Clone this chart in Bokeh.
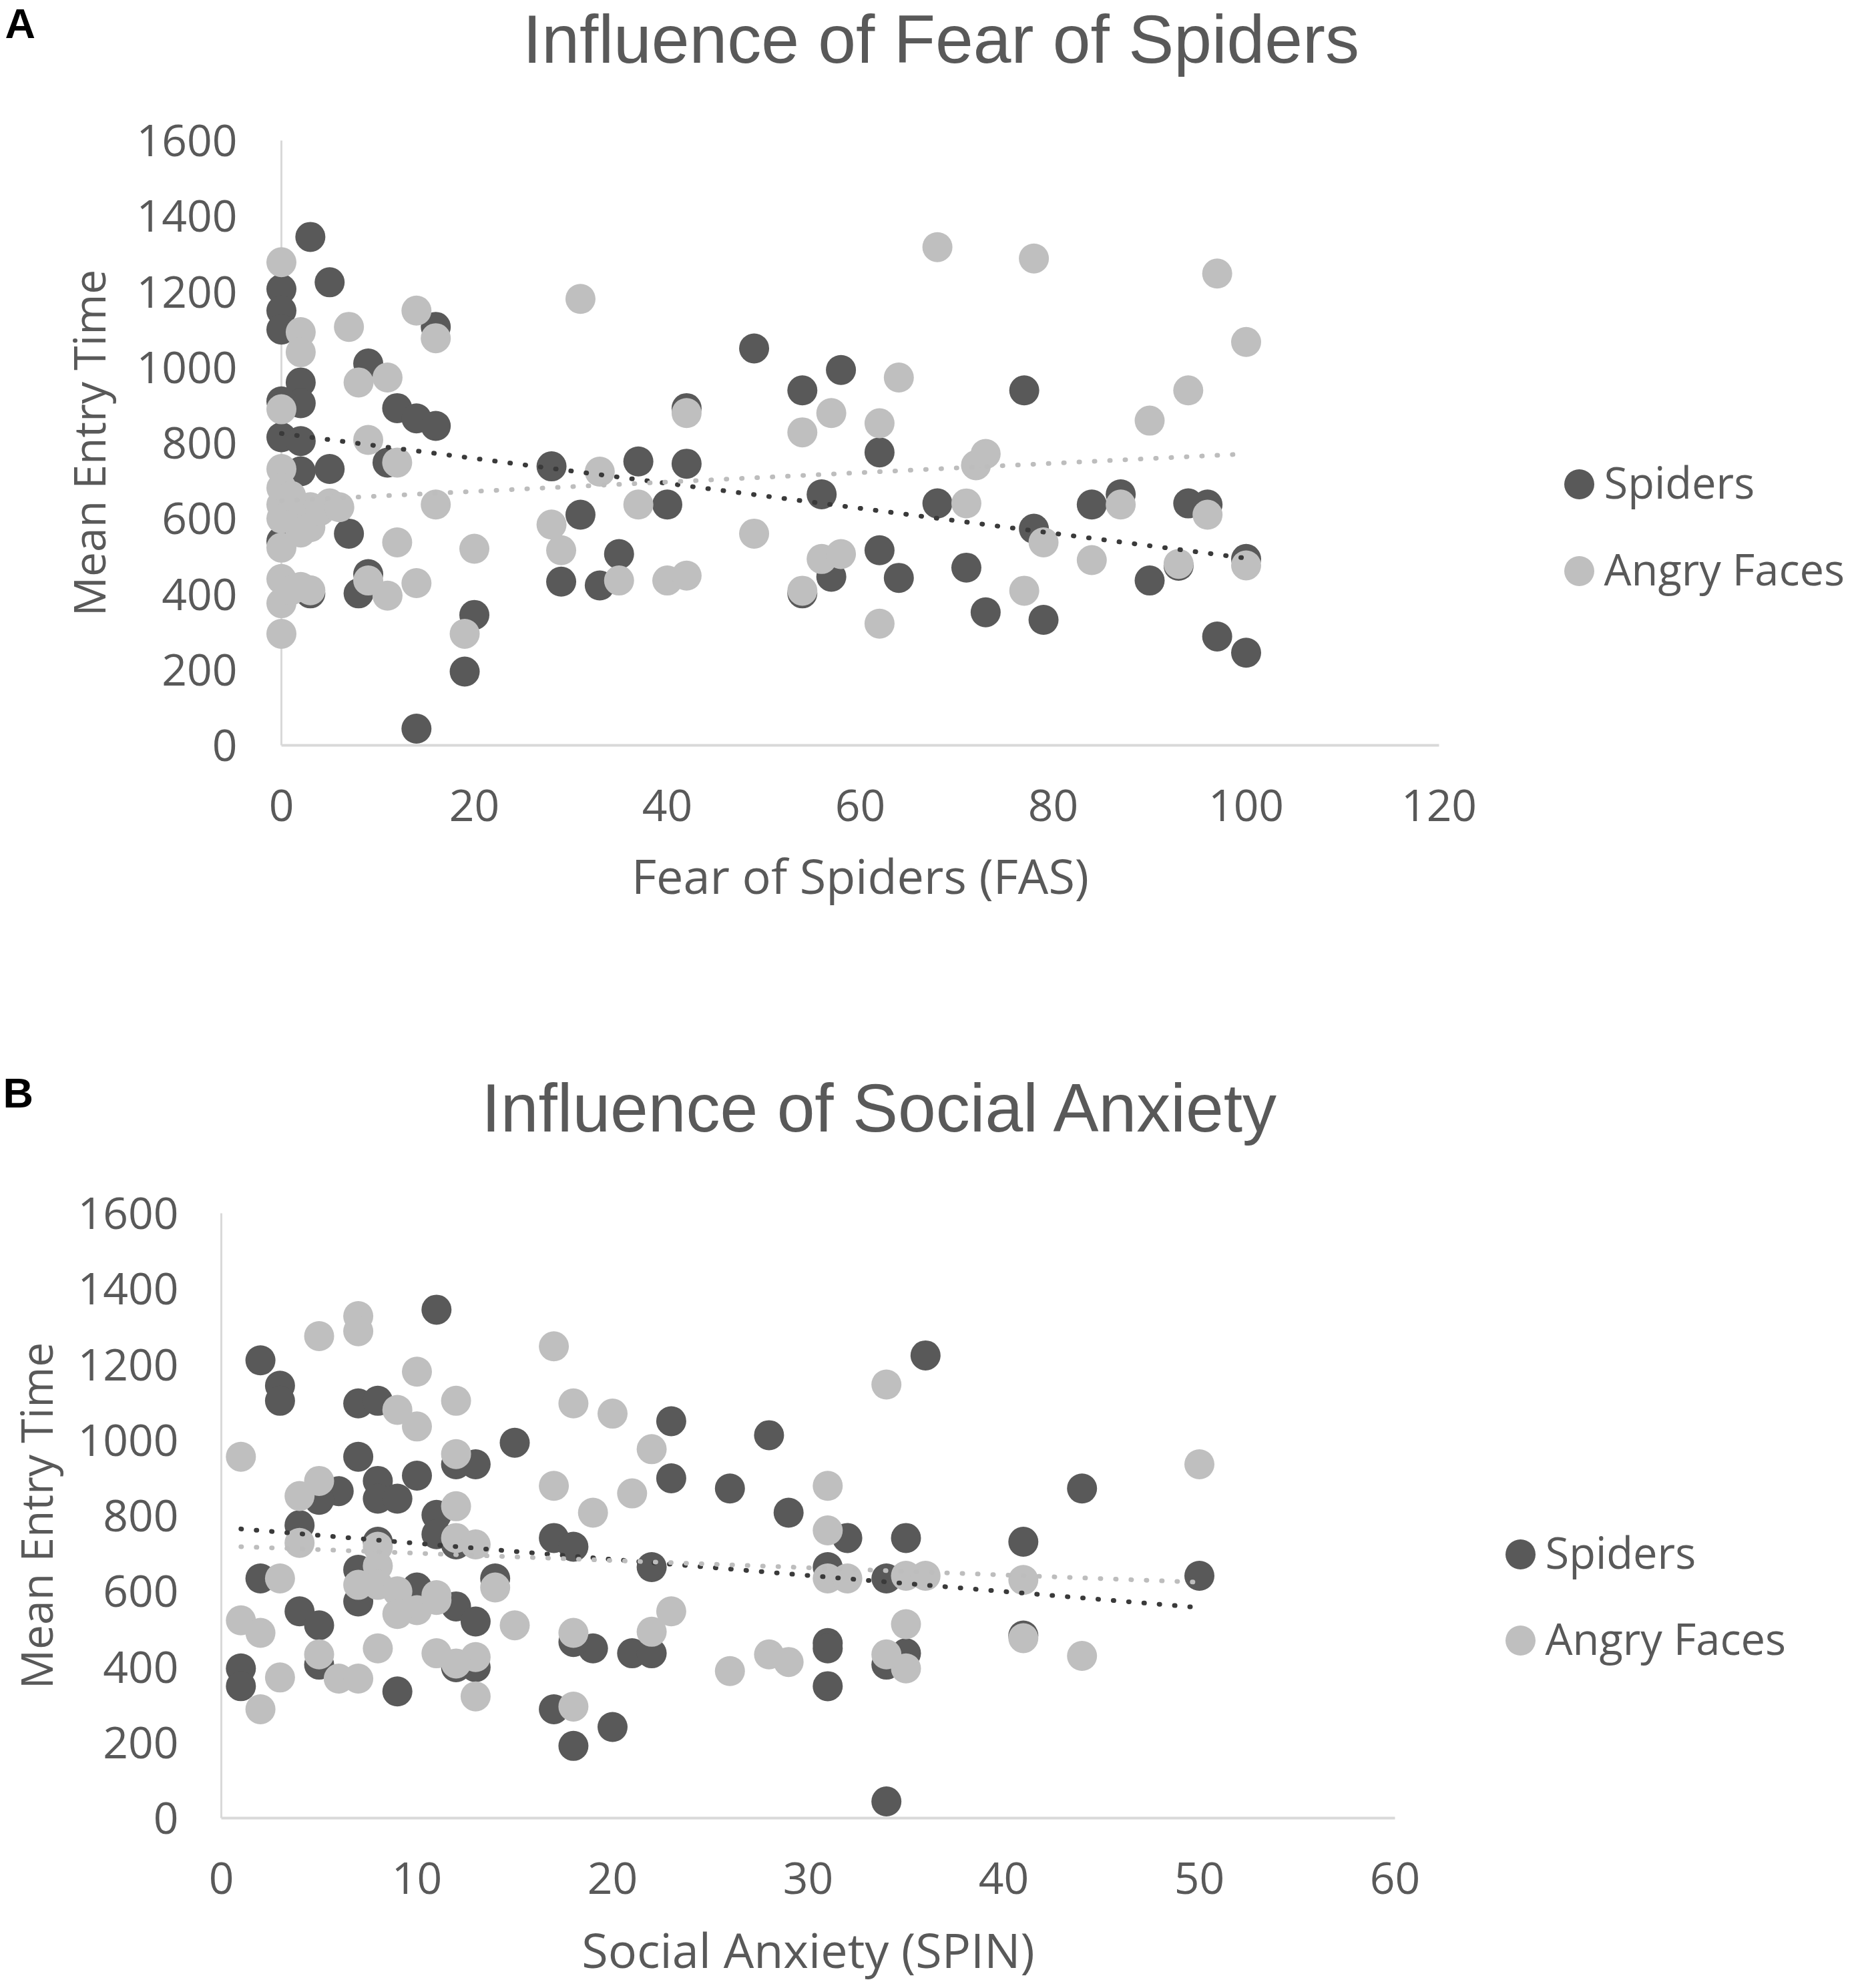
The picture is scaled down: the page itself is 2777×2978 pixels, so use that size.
from bokeh.plotting import figure
from bokeh.models import Range1d, FixedTicker, Label
from bokeh.layouts import column
from bokeh.embed import file_html
from bokeh.resources import INLINE

# ---------------- data ----------------
# Panel A: Fear of Spiders (FAS) vs Mean Entry Time
fas_spiders_x = [3, 5, 0, 0, 0, 16, 9, 2, 2, 0, 12, 14, 16, 0, 2, 2, 5, 11, 0, 3, 7, 8, 9,
                 28, 31, 29, 33, 35, 37, 40, 42, 42, 49, 54, 58, 56, 54, 57, 62, 62, 64, 68,
                 71, 73, 77, 78, 79, 84, 87, 90, 94, 96, 93, 100, 97, 100, 20, 19, 14]
fas_spiders_y = [1345, 1225, 1207, 1150, 1100, 1107, 1010, 960, 905, 910, 892, 865, 845, 815,
                 805, 725, 731, 748, 540, 402, 560, 402, 453, 738, 610, 433, 423, 506, 751, 637,
                 745, 892, 1050, 939, 993, 664, 402, 446, 775, 516, 443, 640, 470, 352, 939, 573,
                 332, 637, 664, 436, 640, 637, 475, 493, 288, 245, 345, 195, 44]
fas_angry_x = [0, 2, 2, 7, 14, 16, 31, 8, 11, 0, 9, 12, 0, 0, 0, 2, 3, 5, 2, 0, 3, 16, 12, 20,
               0, 2, 0, 0, 9, 11, 14, 19, 28, 29, 33, 35, 37, 40, 42, 42, 49, 54, 57, 54, 56,
               58, 64, 62, 62, 68, 71, 72, 73, 78, 79, 77, 84, 87, 90, 94, 97, 100, 96, 93,
               100, 0, 1, 4, 6, 1, 3]
fas_angry_y = [1278, 1093, 1040, 1107, 1150, 1077, 1181, 960, 973, 889, 808, 748, 731, 681, 637,
               597, 630, 640, 563, 523, 577, 637, 537, 520, 440, 419, 376, 295, 436, 396, 429,
               295, 584, 516, 724, 436, 637, 436, 449, 879, 560, 828, 879, 409, 493, 506, 973,
               852, 322, 1318, 640, 741, 771, 1288, 537, 409, 490, 637, 859, 939, 1248, 1067,
               610, 480, 476, 600, 660, 620, 630, 410, 410]
fas_trend_x = [0, 100]
fas_spiders_trend = [825, 495]
fas_angry_trend = [647, 771]

# Panel B: Social Anxiety (SPIN) vs Mean Entry Time
spin_spiders_x = [11, 2, 3, 3, 7, 8, 36, 23, 15, 28, 7, 10, 8, 12, 13, 6, 5, 8, 9, 23, 26, 44,
                  11, 29, 4, 11, 8, 17, 18, 32, 35, 41, 12, 22, 2, 7, 14, 31, 34, 50, 10, 7,
                  12, 4, 5, 13, 19, 18, 21, 22, 31, 31, 35, 34, 41, 5, 1, 1, 12, 13, 9, 31,
                  17, 18, 20, 34]
spin_spiders_y = [1345, 1211, 1144, 1104, 1097, 1104, 1224, 1050, 993, 1013, 956, 906, 892, 936,
                  936, 865, 842, 845, 845, 899, 872, 872, 802, 808, 775, 751, 731, 741, 718, 741,
                  741, 731, 724, 664, 634, 657, 634, 664, 634, 641, 610, 573, 560, 547, 510, 520,
                  449, 466, 436, 436, 463, 449, 436, 406, 483, 406, 396, 349, 399, 399, 335, 349,
                  288, 191, 241, 44]
spin_angry_x = [7, 7, 5, 17, 34, 10, 18, 12, 9, 10, 20, 1, 22, 12, 50, 17, 31, 21, 5, 4, 19, 12,
                31, 12, 13, 4, 8, 8, 8, 7, 9, 3, 31, 32, 35, 36, 41, 14, 11, 10, 11, 9, 1, 2,
                15, 23, 22, 18, 35, 5, 8, 11, 13, 12, 41, 44, 28, 29, 26, 35, 34, 3, 6, 7, 13,
                2, 18]
spin_angry_y = [1328, 1288, 1275, 1248, 1147, 1181, 1097, 1104, 1080, 1036, 1070, 956, 976, 963,
                936, 879, 879, 859, 892, 852, 808, 825, 761, 741, 724, 728, 718, 667, 617, 617,
                600, 634, 634, 634, 641, 641, 630, 610, 590, 550, 577, 540, 523, 490, 510, 547,
                493, 490, 513, 433, 449, 436, 426, 409, 476, 429, 433, 413, 389, 396, 433, 372,
                369, 369, 322, 288, 295]
spin_trend_x = [1, 50]
spin_spiders_trend = [765, 557]
spin_angry_trend = [718, 624]

y_ticks = [0, 200, 400, 600, 800, 1000, 1200, 1400, 1600]
fas_ticks = [0, 20, 40, 60, 80, 100, 120]
spin_ticks = [0, 10, 20, 30, 40, 50, 60]
series_names = ["Spiders", "Angry Faces"]

# ---------------- style ----------------
DARK = "#595959"
LIGHT = "#bfbfbf"
TREND_DARK = "#3a3a3a"
TREND_LIGHT = "#bdbdbd"
AXIS = "#d9d9d9"
TXT = "#595959"
FONT = "Open Sans"
TITLE_FONT = "Liberation Sans"
W = 2777


def panel(height, x0, xu, y0, yu, xmax, xs, ys, xa, ya, tx, ts, ta, xticks, title, xlabel,
          letter, title_px, letter_px, legend_px, ytick_so, ylab_so, xtick_so, xlab_so):
    # x0, y0: pixel position of the data origin inside the figure; xu, yu: pixels per unit
    def fx(px):
        return (px - x0) / xu

    def fy(py):
        return (y0 - py) / yu

    p = figure(width=W, height=height,
               x_range=Range1d(fx(0), fx(W)), y_range=Range1d(fy(height), fy(0)),
               output_backend="svg", toolbar_location=None, min_border=0)
    p.outline_line_color = None
    p.grid.visible = False
    p.background_fill_color = "white"
    p.border_fill_color = "white"

    for ax in (p.xaxis[0], p.yaxis[0]):
        ax.axis_line_color = None
        ax.major_tick_line_color = None
        ax.minor_tick_line_color = None
        ax.major_tick_out = 0
        ax.major_tick_in = 0
        ax.minor_tick_out = 0
        ax.minor_tick_in = 0
        ax.fixed_location = 0
        ax.major_label_text_font = FONT
        ax.major_label_text_font_size = "66px"
        ax.major_label_text_color = TXT
        ax.axis_label_text_font = FONT
        ax.axis_label_text_font_style = "normal"
        ax.axis_label_text_color = TXT
    p.xaxis.bounds = (0, xmax)
    p.yaxis.bounds = (0, 1600)
    p.xaxis.ticker = FixedTicker(ticks=xticks)
    p.yaxis.ticker = FixedTicker(ticks=y_ticks)
    p.xaxis.axis_label = xlabel
    p.xaxis.axis_label_text_font_size = "72px"
    p.yaxis.axis_label = "Mean Entry Time"
    p.yaxis.axis_label_text_font_size = "66px"
    p.yaxis.major_label_standoff = ytick_so
    p.yaxis.axis_label_standoff = ylab_so
    p.xaxis.major_label_standoff = xtick_so
    p.xaxis.axis_label_standoff = xlab_so

    # axis lines (Excel style, light grey), drawn below the markers
    p.segment(x0=[0], y0=[0], x1=[xmax], y1=[0], line_color=AXIS, line_width=4)
    p.segment(x0=[0], y0=[0], x1=[0], y1=[1600], line_color=AXIS, line_width=3)

    p.scatter(xs, ys, size=45, fill_color=DARK, line_color=None)
    p.scatter(xa, ya, size=45, fill_color=LIGHT, line_color=None)
    p.line(tx, ts, line_color=TREND_DARK, line_width=7, line_dash="1 22", line_cap="round")
    p.line(tx, ta, line_color=TREND_LIGHT, line_width=7, line_dash="1 22", line_cap="round")

    p.add_layout(Label(x=fx(title_px[0]), y=fy(title_px[1]), text=title, text_align="center",
                       text_baseline="middle", text_font=TITLE_FONT, text_font_size="102px",
                       text_font_style="normal", text_color=TXT))
    p.add_layout(Label(x=fx(letter_px[0]), y=fy(letter_px[1]), text=letter, text_align="left",
                       text_baseline="middle", text_font="Liberation Sans",
                       text_font_style="bold", text_font_size="63px", text_color="black"))

    # legend (to the right of the plot area)
    mx, ly1, ly2 = legend_px
    for name, col, ly in zip(series_names, [DARK, LIGHT], [ly1, ly2]):
        p.scatter([fx(mx)], [fy(ly)], size=45, fill_color=col, line_color=None)
        p.add_layout(Label(x=fx(mx + 37), y=fy(ly - 4), text=name, text_align="left",
                           text_baseline="middle", text_font=FONT, text_font_size="65px",
                           text_color=TXT))
    return p


HA = 1450
pA = panel(HA, 421, 14.45, 1116, 0.56625, 120,
           fas_spiders_x, fas_spiders_y, fas_angry_x, fas_angry_y,
           fas_trend_x, fas_spiders_trend, fas_angry_trend,
           fas_ticks, "Influence of Fear of Spiders", "Fear of Spiders (FAS)", "A",
           (1409, 58), (7, 34), (2365, 725, 855), 66, 25, 66, 29)

pB = panel(2970 - HA, 331, 29.3, 2723 - HA, 0.56625, 60,
           spin_spiders_x, spin_spiders_y, spin_angry_x, spin_angry_y,
           spin_trend_x, spin_spiders_trend, spin_angry_trend,
           spin_ticks, "Influence of Social Anxiety", "Social Anxiety (SPIN)", "B",
           (1319, 1659 - HA), (4, 1636 - HA), (2277, 2328 - HA, 2457 - HA), 64, 16, 66, 31)

layout = column(pA, pB)
open("out.html", "w").write(file_html(layout, INLINE))
